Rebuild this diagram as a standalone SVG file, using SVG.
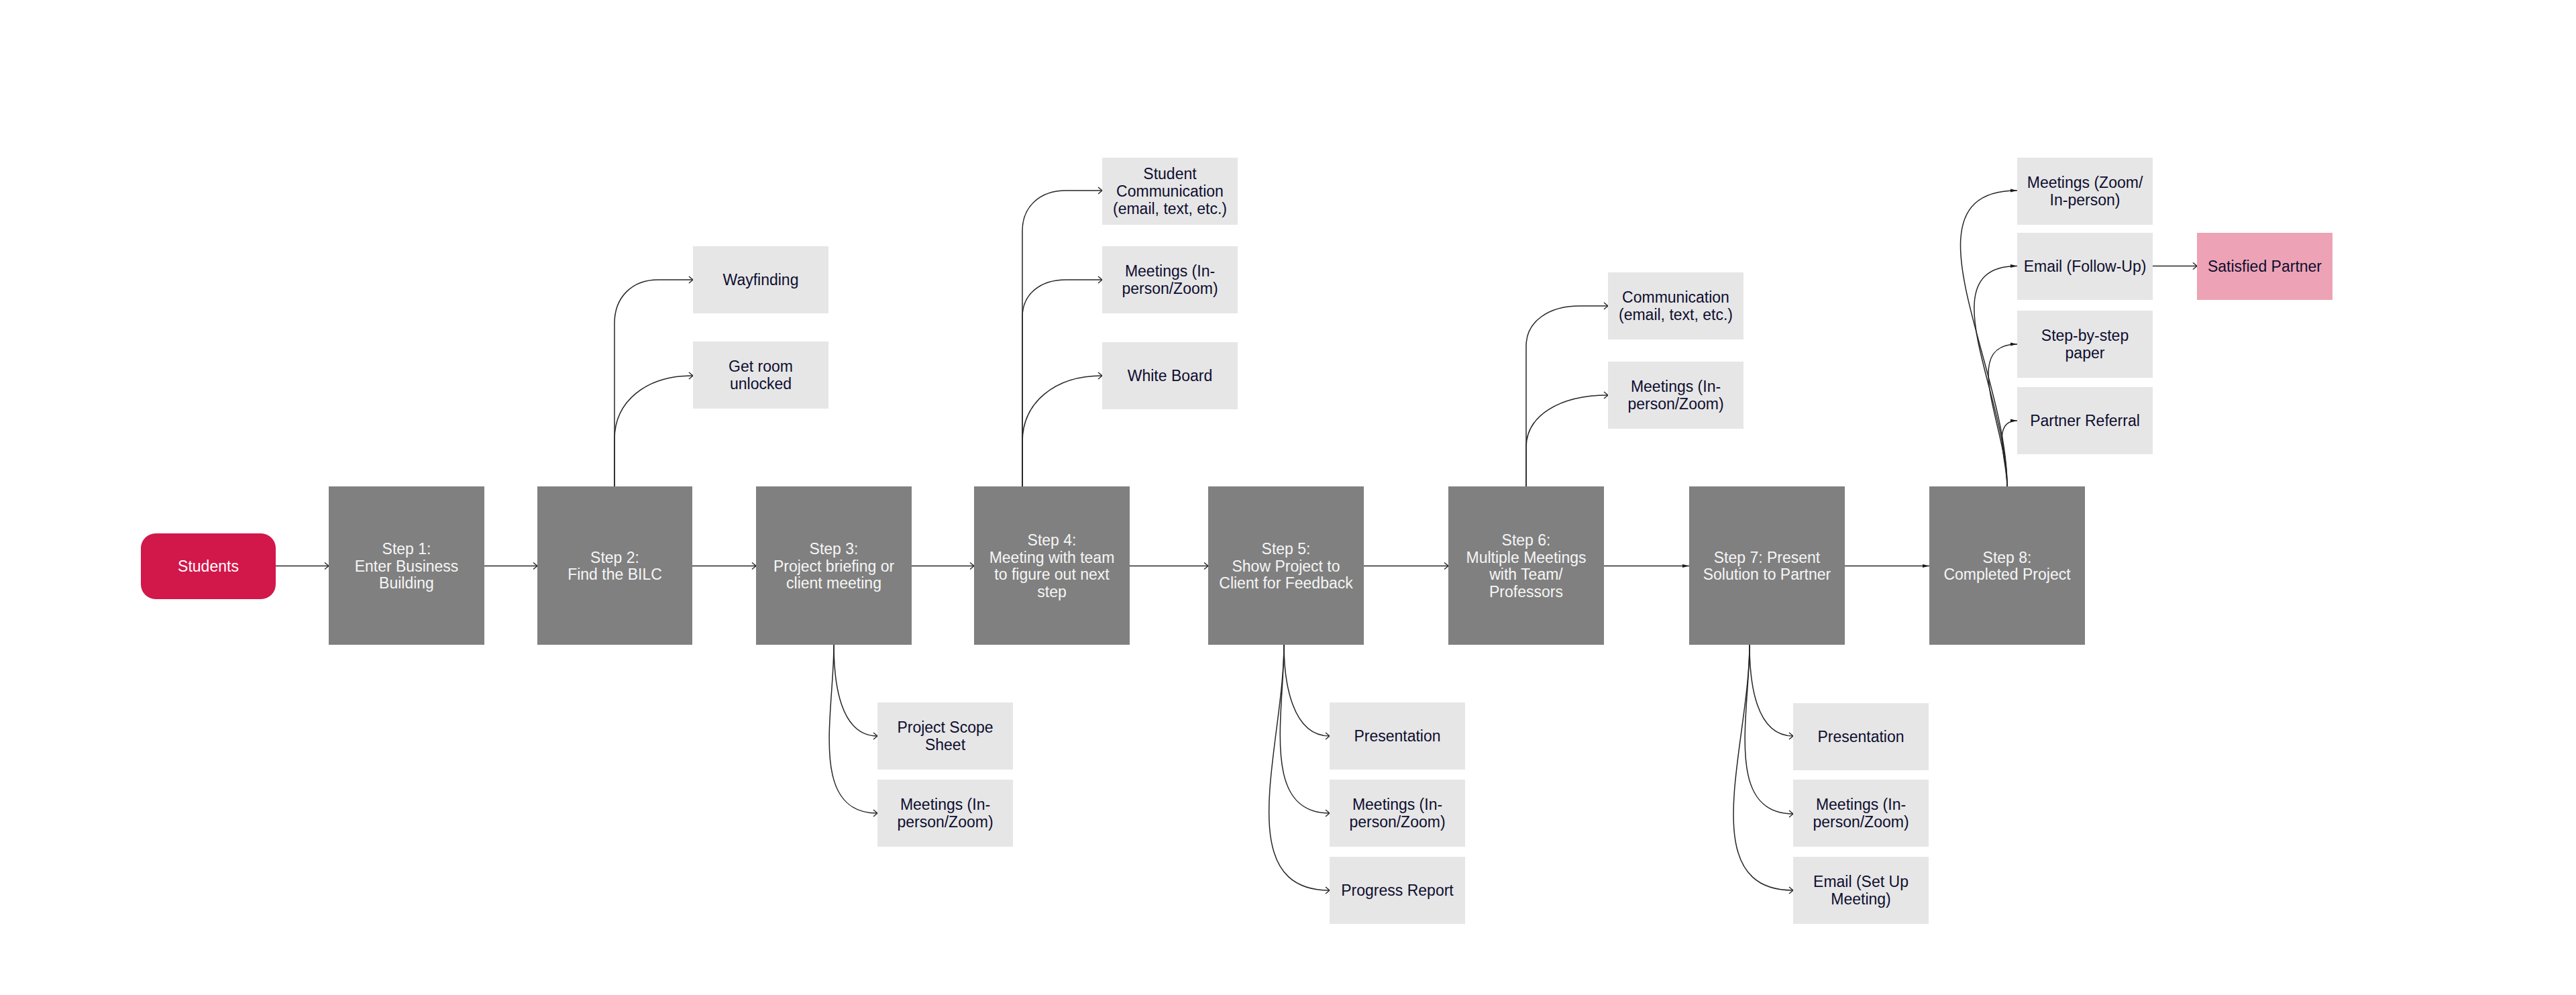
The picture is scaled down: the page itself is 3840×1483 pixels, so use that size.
<svg xmlns="http://www.w3.org/2000/svg" width="3840" height="1483" viewBox="0 0 3840 1483">
<style>
  .step{fill:#808080}
  .child{fill:#E6E6E6}
  .st{font-family:"Liberation Sans",Arial,sans-serif;font-size:23px;fill:#F6F6F6;text-anchor:middle}
  .ct{font-family:"Liberation Sans",Arial,sans-serif;font-size:23px;fill:#0E0E30;text-anchor:middle}
  .wt{font-family:"Liberation Sans",Arial,sans-serif;font-size:23px;fill:#FFFFFF;text-anchor:middle}
  .c{fill:none;stroke:#262626;stroke-width:1.5}
  .o{marker-end:url(#open)}
  .f{marker-end:url(#fill)}
</style>
<defs>
  <marker id="open" markerUnits="userSpaceOnUse" markerWidth="10" markerHeight="12" viewBox="0 0 10 12" refX="8" refY="6" orient="auto">
    <path d="M2,1 L8,6 L2,11" fill="none" stroke="#262626" stroke-width="1.4"/>
  </marker>
  <marker id="fill" markerUnits="userSpaceOnUse" markerWidth="10" markerHeight="6" viewBox="0 0 10 6" refX="10" refY="3" orient="auto">
    <path d="M0,0.5 L10,3 L0,5.5 z" fill="#1A1A1A"/>
  </marker>
</defs>
<rect width="3840" height="1483" fill="#FFFFFF"/>

<g id="connectors">
  <path class="c o" d="M411,843.5 H490"/>
  <path class="c o" d="M722,843.5 H801"/>
  <path class="c o" d="M1032,843.5 H1127"/>
  <path class="c o" d="M1359,843.5 H1452"/>
  <path class="c o" d="M1684,843.5 H1801"/>
  <path class="c o" d="M2033,843.5 H2159"/>
  <path class="c f" d="M2391,843.5 H2518"/>
  <path class="c f" d="M2750,843.5 H2876"/>

  <path class="c o" d="M916,725 V482 C916,443 942,417 981,417 H1033"/>
  <path class="c o" d="M916,725 V655 C916,598 963,560 1033,560"/>

  <path class="c o" d="M1524,725 V344 C1524,308 1550,284 1589,284 H1643"/>
  <path class="c o" d="M1524,725 V472 C1524,439 1550,417 1589,417 H1643"/>
  <path class="c o" d="M1524,725 V659 C1524,600 1572,560 1643,560"/>

  <path class="c o" d="M2275,725 V516 C2275,480 2307,456 2355,456 H2397"/>
  <path class="c o" d="M2275,725 V667 C2275,620 2324,589 2397,589"/>

  <path class="c o" d="M1243,961 C1243,1017 1252,1097 1308,1097"/>
  <path class="c o" d="M1243,961 C1243,1064 1205,1212 1308,1212"/>

  <path class="c o" d="M1914,961 C1914,1017 1926,1097 1982,1097"/>
  <path class="c o" d="M1914,961 C1914,1064 1879,1212 1982,1212"/>
  <path class="c o" d="M1914,961 C1914,1111 1832,1327 1982,1327"/>

  <path class="c o" d="M2608,961 C2608,1017 2617,1097 2673,1097"/>
  <path class="c o" d="M2608,961 C2608,1064 2570,1213 2673,1213"/>
  <path class="c o" d="M2608,961 C2608,1111 2523,1327 2673,1327"/>

  <path class="c f" d="M2992,725 C2992,544 2826,284 3007,284"/>
  <path class="c f" d="M2992,725 C2992,590 2872,396.5 3007,396.5"/>
  <path class="c f" d="M2992,725 C2992,638 2920,513 3007,513"/>
  <path class="c f" d="M2992,725 C2992,685 2967,627 3007,627"/>

  <path class="c o" d="M3209,396.5 H3275"/>
</g>

<g id="students">
  <rect x="210" y="795" width="201" height="98" rx="22" fill="#D2174A"/>
  <text class="wt" x="310.5" y="852">Students</text>
</g>

<g id="step1">
  <rect class="step" x="490" y="725" width="232" height="236"/>
  <text class="st" x="606" y="826">Step 1:</text>
  <text class="st" x="606" y="851.5">Enter Business</text>
  <text class="st" x="606" y="877">Building</text>
</g>
<g id="step2">
  <rect class="step" x="801" y="725" width="231" height="236"/>
  <text class="st" x="916.5" y="838.75">Step 2:</text>
  <text class="st" x="916.5" y="864.25">Find the BILC</text>
</g>
<g id="step3">
  <rect class="step" x="1127" y="725" width="232" height="236"/>
  <text class="st" x="1243" y="826">Step 3:</text>
  <text class="st" x="1243" y="851.5">Project briefing or</text>
  <text class="st" x="1243" y="877">client meeting</text>
</g>
<g id="step4">
  <rect class="step" x="1452" y="725" width="232" height="236"/>
  <text class="st" x="1568" y="813.25">Step 4:</text>
  <text class="st" x="1568" y="838.75">Meeting with team</text>
  <text class="st" x="1568" y="864.25">to figure out next</text>
  <text class="st" x="1568" y="889.75">step</text>
</g>
<g id="step5">
  <rect class="step" x="1801" y="725" width="232" height="236"/>
  <text class="st" x="1917" y="826">Step 5:</text>
  <text class="st" x="1917" y="851.5">Show Project to</text>
  <text class="st" x="1917" y="877">Client for Feedback</text>
</g>
<g id="step6">
  <rect class="step" x="2159" y="725" width="232" height="236"/>
  <text class="st" x="2275" y="813.25">Step 6:</text>
  <text class="st" x="2275" y="838.75">Multiple Meetings</text>
  <text class="st" x="2275" y="864.25">with Team/</text>
  <text class="st" x="2275" y="889.75">Professors</text>
</g>
<g id="step7">
  <rect class="step" x="2518" y="725" width="232" height="236"/>
  <text class="st" x="2634" y="838.75">Step 7: Present</text>
  <text class="st" x="2634" y="864.25">Solution to Partner</text>
</g>
<g id="step8">
  <rect class="step" x="2876" y="725" width="232" height="236"/>
  <text class="st" x="2992" y="838.75">Step 8:</text>
  <text class="st" x="2992" y="864.25">Completed Project</text>
</g>

<g id="wayfinding">
  <rect class="child" x="1033" y="367" width="202" height="100"/>
  <text class="ct" x="1134" y="425">Wayfinding</text>
</g>
<g id="get-room">
  <rect class="child" x="1033" y="509" width="202" height="100"/>
  <text class="ct" x="1134" y="554">Get room</text>
  <text class="ct" x="1134" y="580">unlocked</text>
</g>

<g id="s3-scope">
  <rect class="child" x="1308" y="1047" width="202" height="100"/>
  <text class="ct" x="1409" y="1092">Project Scope</text>
  <text class="ct" x="1409" y="1118">Sheet</text>
</g>
<g id="s3-meetings">
  <rect class="child" x="1308" y="1162" width="202" height="100"/>
  <text class="ct" x="1409" y="1207">Meetings (In-</text>
  <text class="ct" x="1409" y="1233">person/Zoom)</text>
</g>

<g id="s4-communication">
  <rect class="child" x="1643" y="235" width="202" height="100"/>
  <text class="ct" x="1744" y="267">Student</text>
  <text class="ct" x="1744" y="293">Communication</text>
  <text class="ct" x="1744" y="319">(email, text, etc.)</text>
</g>
<g id="s4-meetings">
  <rect class="child" x="1643" y="367" width="202" height="100"/>
  <text class="ct" x="1744" y="412">Meetings (In-</text>
  <text class="ct" x="1744" y="438">person/Zoom)</text>
</g>
<g id="s4-whiteboard">
  <rect class="child" x="1643" y="510" width="202" height="100"/>
  <text class="ct" x="1744" y="568">White Board</text>
</g>

<g id="s5-presentation">
  <rect class="child" x="1982" y="1047" width="202" height="100"/>
  <text class="ct" x="2083" y="1105">Presentation</text>
</g>
<g id="s5-meetings">
  <rect class="child" x="1982" y="1162" width="202" height="100"/>
  <text class="ct" x="2083" y="1207">Meetings (In-</text>
  <text class="ct" x="2083" y="1233">person/Zoom)</text>
</g>
<g id="s5-progress">
  <rect class="child" x="1982" y="1277" width="202" height="100"/>
  <text class="ct" x="2083" y="1335">Progress Report</text>
</g>

<g id="s6-communication">
  <rect class="child" x="2397" y="406" width="202" height="100"/>
  <text class="ct" x="2498" y="451">Communication</text>
  <text class="ct" x="2498" y="477">(email, text, etc.)</text>
</g>
<g id="s6-meetings">
  <rect class="child" x="2397" y="539" width="202" height="100"/>
  <text class="ct" x="2498" y="584">Meetings (In-</text>
  <text class="ct" x="2498" y="610">person/Zoom)</text>
</g>

<g id="s7-presentation">
  <rect class="child" x="2673" y="1048" width="202" height="100"/>
  <text class="ct" x="2774" y="1106">Presentation</text>
</g>
<g id="s7-meetings">
  <rect class="child" x="2673" y="1162" width="202" height="100"/>
  <text class="ct" x="2774" y="1207">Meetings (In-</text>
  <text class="ct" x="2774" y="1233">person/Zoom)</text>
</g>
<g id="s7-email">
  <rect class="child" x="2673" y="1277" width="202" height="100"/>
  <text class="ct" x="2774" y="1322">Email (Set Up</text>
  <text class="ct" x="2774" y="1348">Meeting)</text>
</g>

<g id="s8-meetings">
  <rect class="child" x="3007" y="235" width="202" height="100"/>
  <text class="ct" x="3108" y="280">Meetings (Zoom/</text>
  <text class="ct" x="3108" y="306">In-person)</text>
</g>
<g id="s8-email">
  <rect class="child" x="3007" y="347" width="202" height="100"/>
  <text class="ct" x="3108" y="405">Email (Follow-Up)</text>
</g>
<g id="s8-stepbystep">
  <rect class="child" x="3007" y="463" width="202" height="100"/>
  <text class="ct" x="3108" y="508">Step-by-step</text>
  <text class="ct" x="3108" y="534">paper</text>
</g>
<g id="s8-referral">
  <rect class="child" x="3007" y="577" width="202" height="100"/>
  <text class="ct" x="3108" y="635">Partner Referral</text>
</g>

<g id="satisfied-partner">
  <rect x="3275" y="347" width="202" height="100" fill="#EDA3B5"/>
  <text class="ct" x="3376" y="405">Satisfied Partner</text>
</g>
</svg>
